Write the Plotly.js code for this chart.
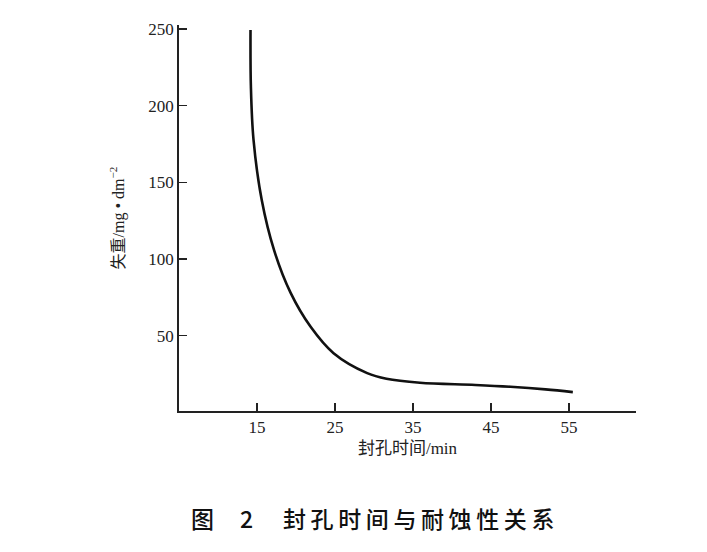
<!DOCTYPE html>
<html>
<head>
<meta charset="utf-8">
<script src="https://cdn.plot.ly/plotly-3.0.1.min.js"></script>
<style>html,body{margin:0;padding:0;background:#fff;}#chart{width:707px;height:552px;}</style>
</head>
<body>
<div id="chart"></div>
<script>
// Sealing time (min) vs weight loss (mg·dm^-2)
const sealTime = [14.17, 14.22, 14.55, 15.61, 17.19, 19.3, 21.88, 24.82, 29.13, 31.6, 35.9, 43.0, 47.5, 52.0, 55.5];
const weightLoss = [249.3, 212.3, 178.0, 138.4, 105.7, 78.0, 55.7, 38.5, 25.5, 21.8, 19.2, 17.8, 16.6, 14.9, 13.1];
const xTicks = [15, 25, 35, 45, 55];
const yTicks = [50, 100, 150, 200, 250];
const captionParts = ['图', '2', '封孔时间与耐蚀性关系'];

const tickFont = {family: 'Liberation Serif, DejaVu Serif, serif', size: 17, color: '#222'};
const cjkFont = 'Liberation Serif, Noto Sans CJK SC, serif';
const capFont = {family: 'Noto Sans CJK SC, sans-serif', size: 23, color: '#111', weight: 500};

const trace = {
  x: sealTime, y: weightLoss, mode: 'lines', type: 'scatter',
  line: {color: '#111', width: 2.6, shape: 'spline', smoothing: 1.0},
  hoverinfo: 'skip'
};

const capX = [0.0525, 0.147, 0.524];

const layout = {
  width: 707, height: 552,
  margin: {l: 179, r: 71, t: 25, b: 141},
  paper_bgcolor: '#fff', plot_bgcolor: '#fff',
  showlegend: false,
  xaxis: {
    range: [5, 63.6], tickvals: xTicks, ticktext: xTicks.map(String),
    ticks: 'inside', ticklen: 8, tickwidth: 1.5, tickcolor: '#222',
    showline: true, linecolor: '#222', linewidth: 1.8, showgrid: false, zeroline: false,
    tickfont: tickFont,
    title: {text: '封孔时间/min', font: {family: cjkFont, size: 17, color: '#222'}, standoff: 6}
  },
  yaxis: {
    range: [0.8, 252.6], tickvals: yTicks, ticktext: yTicks.map(String),
    ticks: 'inside', ticklen: 8, tickwidth: 1.5, tickcolor: '#222',
    showline: true, linecolor: '#222', linewidth: 1.8, showgrid: false, zeroline: false,
    tickfont: tickFont,
    title: {text: '失重/mg • dm<sup>−2</sup>', font: {family: cjkFont, size: 16, color: '#222'}, standoff: 20}
  },
  annotations: captionParts.map((t, i) => ({
    xref: 'paper', yref: 'paper', x: capX[i], y: -0.277, xanchor: 'center', yanchor: 'middle',
    text: Array.from(t).join('\u2009'), showarrow: false, font: capFont
  }))
};

Plotly.newPlot('chart', [trace], layout, {staticPlot: true, displayModeBar: false});
</script>
</body>
</html>
